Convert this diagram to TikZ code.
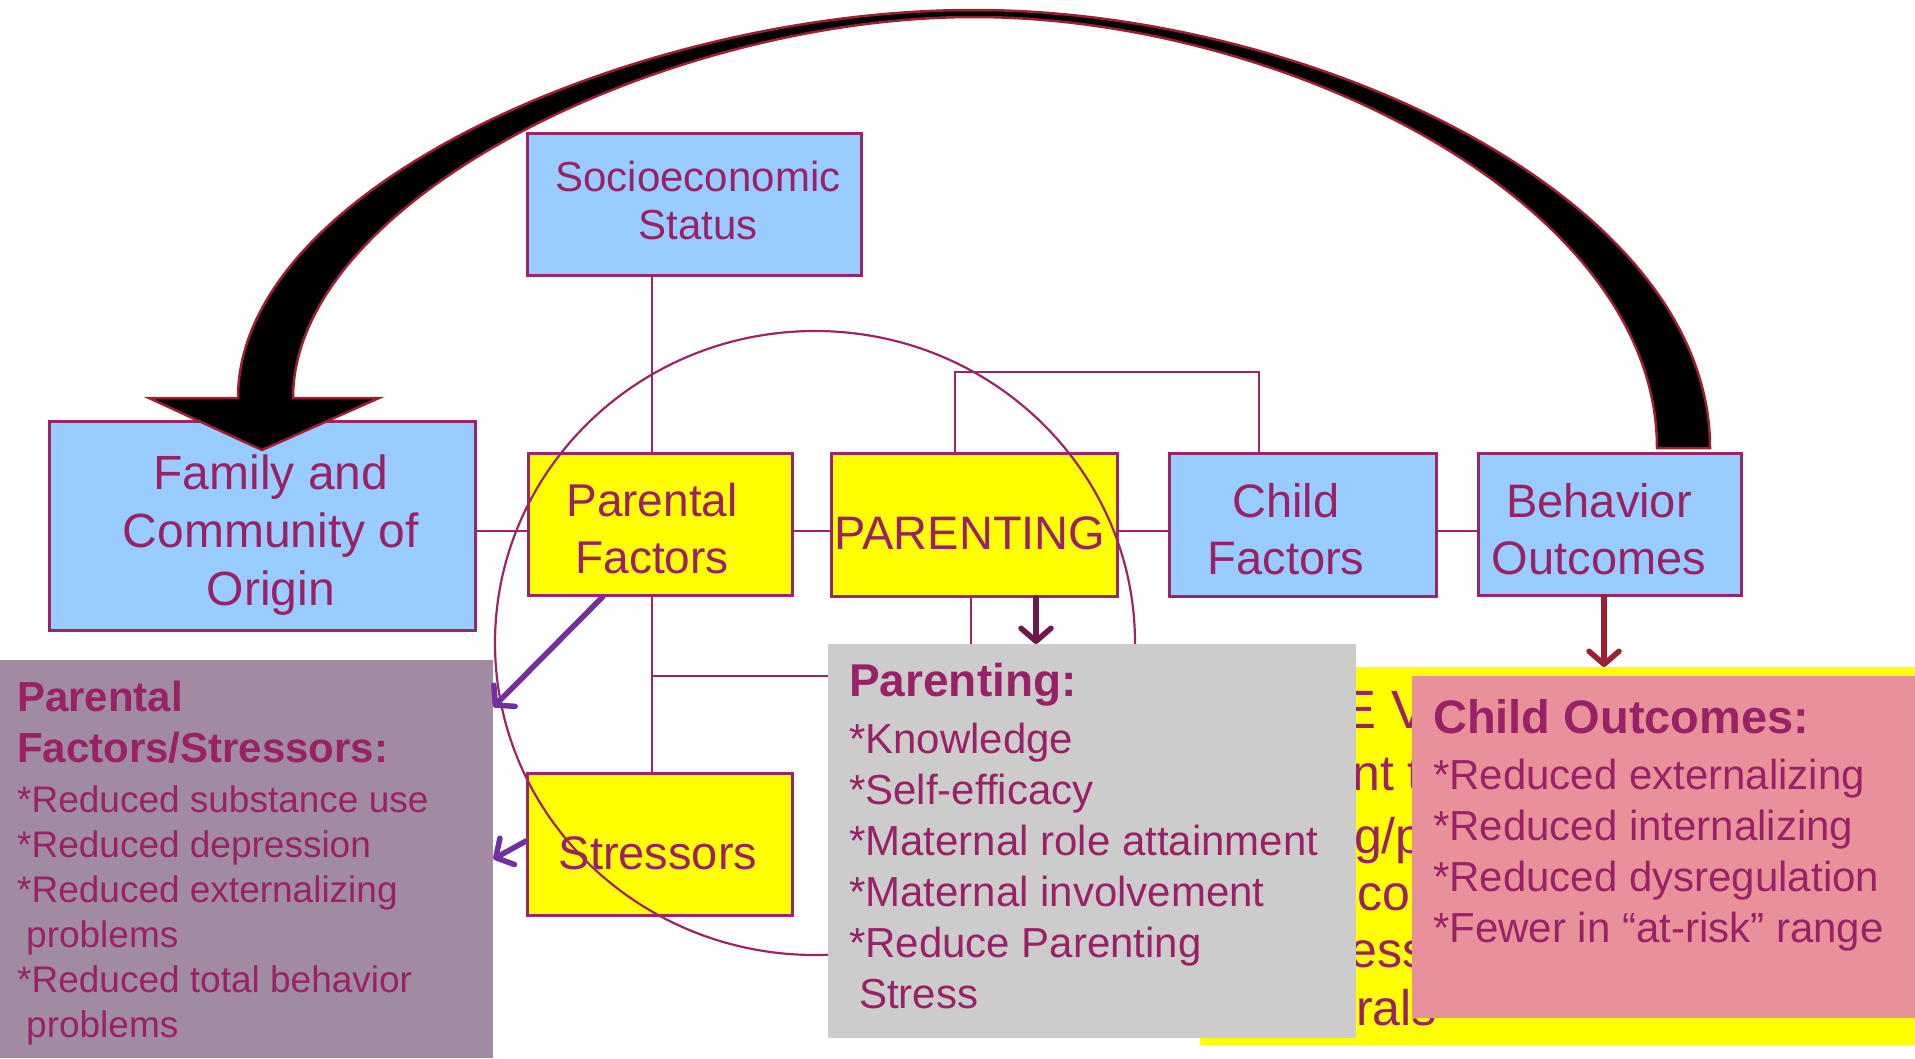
\documentclass[tikz,border=0pt]{standalone}
\usepackage{fontspec}
\setmainfont{Liberation Sans}
\usetikzlibrary{arrows.meta}
\definecolor{txt}{RGB}{153,34,102}
\definecolor{bord}{RGB}{153,38,102}
\definecolor{lblue}{RGB}{153,204,255}
\definecolor{yel}{RGB}{255,255,0}
\definecolor{greyb}{RGB}{204,204,204}
\definecolor{pinkb}{RGB}{232,145,155}
\definecolor{mauve}{RGB}{161,139,163}
\definecolor{arrred}{RGB}{155,32,52}
\definecolor{purp}{RGB}{112,48,160}
\definecolor{plum}{RGB}{110,24,72}
\newcommand\myfs[2]{\fontsize{#1}{#2}\selectfont}
\newcommand\normsp{\spaceskip=0pt \xspaceskip=0pt }
\tikzset{
  boxb/.style={draw=bord, line width=2.5pt, fill=lblue, anchor=north west, inner sep=0pt},
  boxy/.style={draw=bord, line width=2.5pt, fill=yel, anchor=north west, inner sep=0pt},
  panel/.style={draw=none, anchor=north west, inner sep=0pt},
  conn/.style={draw=bord, line width=2.2pt},
  lbl/.style={text=txt, align=center, inner sep=0pt},
  ptxt/.style={text=txt, anchor=north west, inner sep=0pt, align=left},
  frag/.style={text=txt, anchor=base west, inner sep=0pt, font=\myfs{50}{58}},
  arr/.style={line width=5.5pt, line cap=round, -{Straight Barb[length=13pt,width=30pt,round]}}
}
\begin{document}
\begin{tikzpicture}[x=1pt,y=-1pt]
\useasboundingbox (0,0) rectangle (1915,1058);
\fill[white] (0,0) rectangle (1915,1058);

% guide coordinates
\coordinate (gx1) at (652,0);
\coordinate (gy1) at (0,531);
\coordinate (gx2) at (955,0);
\coordinate (gx3) at (1259,0);
\coordinate (gy2) at (0,372);
\coordinate (gx4) at (971,0);
\coordinate (gy3) at (0,676);
\coordinate (gx5) at (1036,0);
\coordinate (gx6) at (1604,0);
\coordinate (gx7) at (603,0);
\coordinate (gy4) at (0,707);
\coordinate (gy5) at (0,841);
\coordinate (gy6) at (0,859);

% main boxes
\node[boxb, minimum width=334pt, minimum height=142pt] (ses) at (526,132) {};
\node[boxb, minimum width=426pt, minimum height=209pt] (fam) at (48,420) {};
\node[boxy, minimum width=264pt, minimum height=142pt] (pf) at (527,452) {};
\node[boxy, minimum width=286pt, minimum height=143pt] (par) at (830,452) {};
\node[boxb, minimum width=267pt, minimum height=143pt] (cf) at (1168,452) {};
\node[boxb, minimum width=263pt, minimum height=142pt] (bo) at (1477,452) {};
\node[boxy, minimum width=265pt, minimum height=142pt] (str) at (526,772) {};

% connectors
\draw[conn] (ses.south -| gx1) -- (pf.north -| gx1);
\draw[conn] (fam.east |- gy1) -- (pf.west |- gy1);
\draw[conn] (pf.east |- gy1) -- (par.west |- gy1);
\draw[conn] (par.east |- gy1) -- (cf.west |- gy1);
\draw[conn] (cf.east |- gy1) -- (bo.west |- gy1);
\draw[conn] (par.north -| gx2) -- (gx2 |- gy2) -- (gx3 |- gy2) -- (cf.north -| gx3);
\draw[conn] (pf.south -| gx1) -- (str.north -| gx1);
\draw[conn] (gx1 |- gy3) -- (gx4 |- gy3) -- (par.south -| gx4);

% box labels
\node[lbl, font=\myfs{42}{48}] (sest) at (698,200) {Socioeconomic\\Status};
\node[lbl, font=\myfs{48}{58}] (famt) at (271,535) {Family and\\Community of\\Origin};
\node[lbl, font=\myfs{46}{57}] (pft) at (652,529) {Parental\\Factors};
\node[lbl, font=\myfs{47}{57}] (part) at (970,533) {PARENTING};
\node[lbl, font=\myfs{47}{57}] (cft) at (1286,529) {Child\\Factors};
\node[lbl, font=\myfs{47}{57}] (bot) at (1599,529) {Behavior\\Outcomes};
\node[lbl, font=\myfs{47}{57}] (strt) at (658,853) {Stressors};

% circle
\draw[conn] (815,643) ellipse [x radius=320pt, y radius=312pt];

% big curved arrow
\draw[draw=arrred, fill=black, line width=2.5pt, line join=miter]
  (1710,448) .. controls (1710,194) and (1305,10) .. (974,10)
  .. controls (643,10) and (238,185) .. (238,398)
  -- (149,398) -- (262,450) -- (379,398) -- (293,398)
  .. controls (293,200) and (667,17) .. (974,17)
  .. controls (1281,17) and (1657,200) .. (1657,448) -- cycle;

% yellow panel behind
\node[panel, fill=yel, minimum width=715pt, minimum height=378pt] (yb) at (1200,667) {};
\node[frag, font=\myfs{54}{58}] (f1) at (1340,728) {E V};
\node[frag] (f2) at (1352,790) {nt tr};
\node[frag] (f3) at (1326,853) {ng/p};
\node[frag] (f4) at (1357,910) {con};
\node[frag] (f5) at (1349,967) {ess};
\node[frag] (f6) at (1356,1025) {rals};

% grey panel
\node[panel, fill=greyb, minimum width=528pt, minimum height=394pt] (gb) at (828,644) {};
\node[ptxt, text width=505pt] (gbt) at (849,663) {\normsp
{\myfs{46}{56}\bfseries Parenting:\par}\vspace{6pt}%
{\myfs{42}{51}*Knowledge\\{}*Self-efficacy\\{}*Maternal role attainment\\{}*Maternal involvement\\{}*Reduce Parenting\\\hspace*{10pt}Stress\par}};

% pink panel
\node[panel, fill=pinkb, minimum width=503pt, minimum height=342pt] (pk) at (1412,676) {};
\node[ptxt, text width=480pt] (pkt) at (1433,699) {\normsp
{\myfs{47}{56}\bfseries Child Outcomes:\par}\vspace{5pt}%
{\myfs{42}{51}*Reduced externalizing\\{}*Reduced internalizing\\{}*Reduced dysregulation\\{}*Fewer in “at-risk” range\par}};

% mauve panel
\node[panel, fill=mauve, minimum width=493pt, minimum height=398pt] (pfs) at (0,660) {};
\node[ptxt, text width=470pt] (pfst) at (17,681) {\normsp
{\myfs{42}{51}\bfseries Parental\\Factors/Stressors:\par}\vspace{5pt}%
{\myfs{37}{45}*Reduced substance use\\{}*Reduced depression\\{}*Reduced externalizing\\\hspace*{9pt}problems\\{}*Reduced total behavior\\\hspace*{9pt}problems\par}};

% arrows
\draw[arr, plum] (par.south -| gx5) -- (gb.north -| gx5);
\draw[arr, arrred] (bo.south -| gx6) -- (yb.north -| gx6);
\draw[arr, purp] (pf.south -| gx7) -- (pfs.east |- gy4);
\draw[arr, purp] (str.west |- gy5) -- (pfs.east |- gy6);
\end{tikzpicture}
\end{document}
